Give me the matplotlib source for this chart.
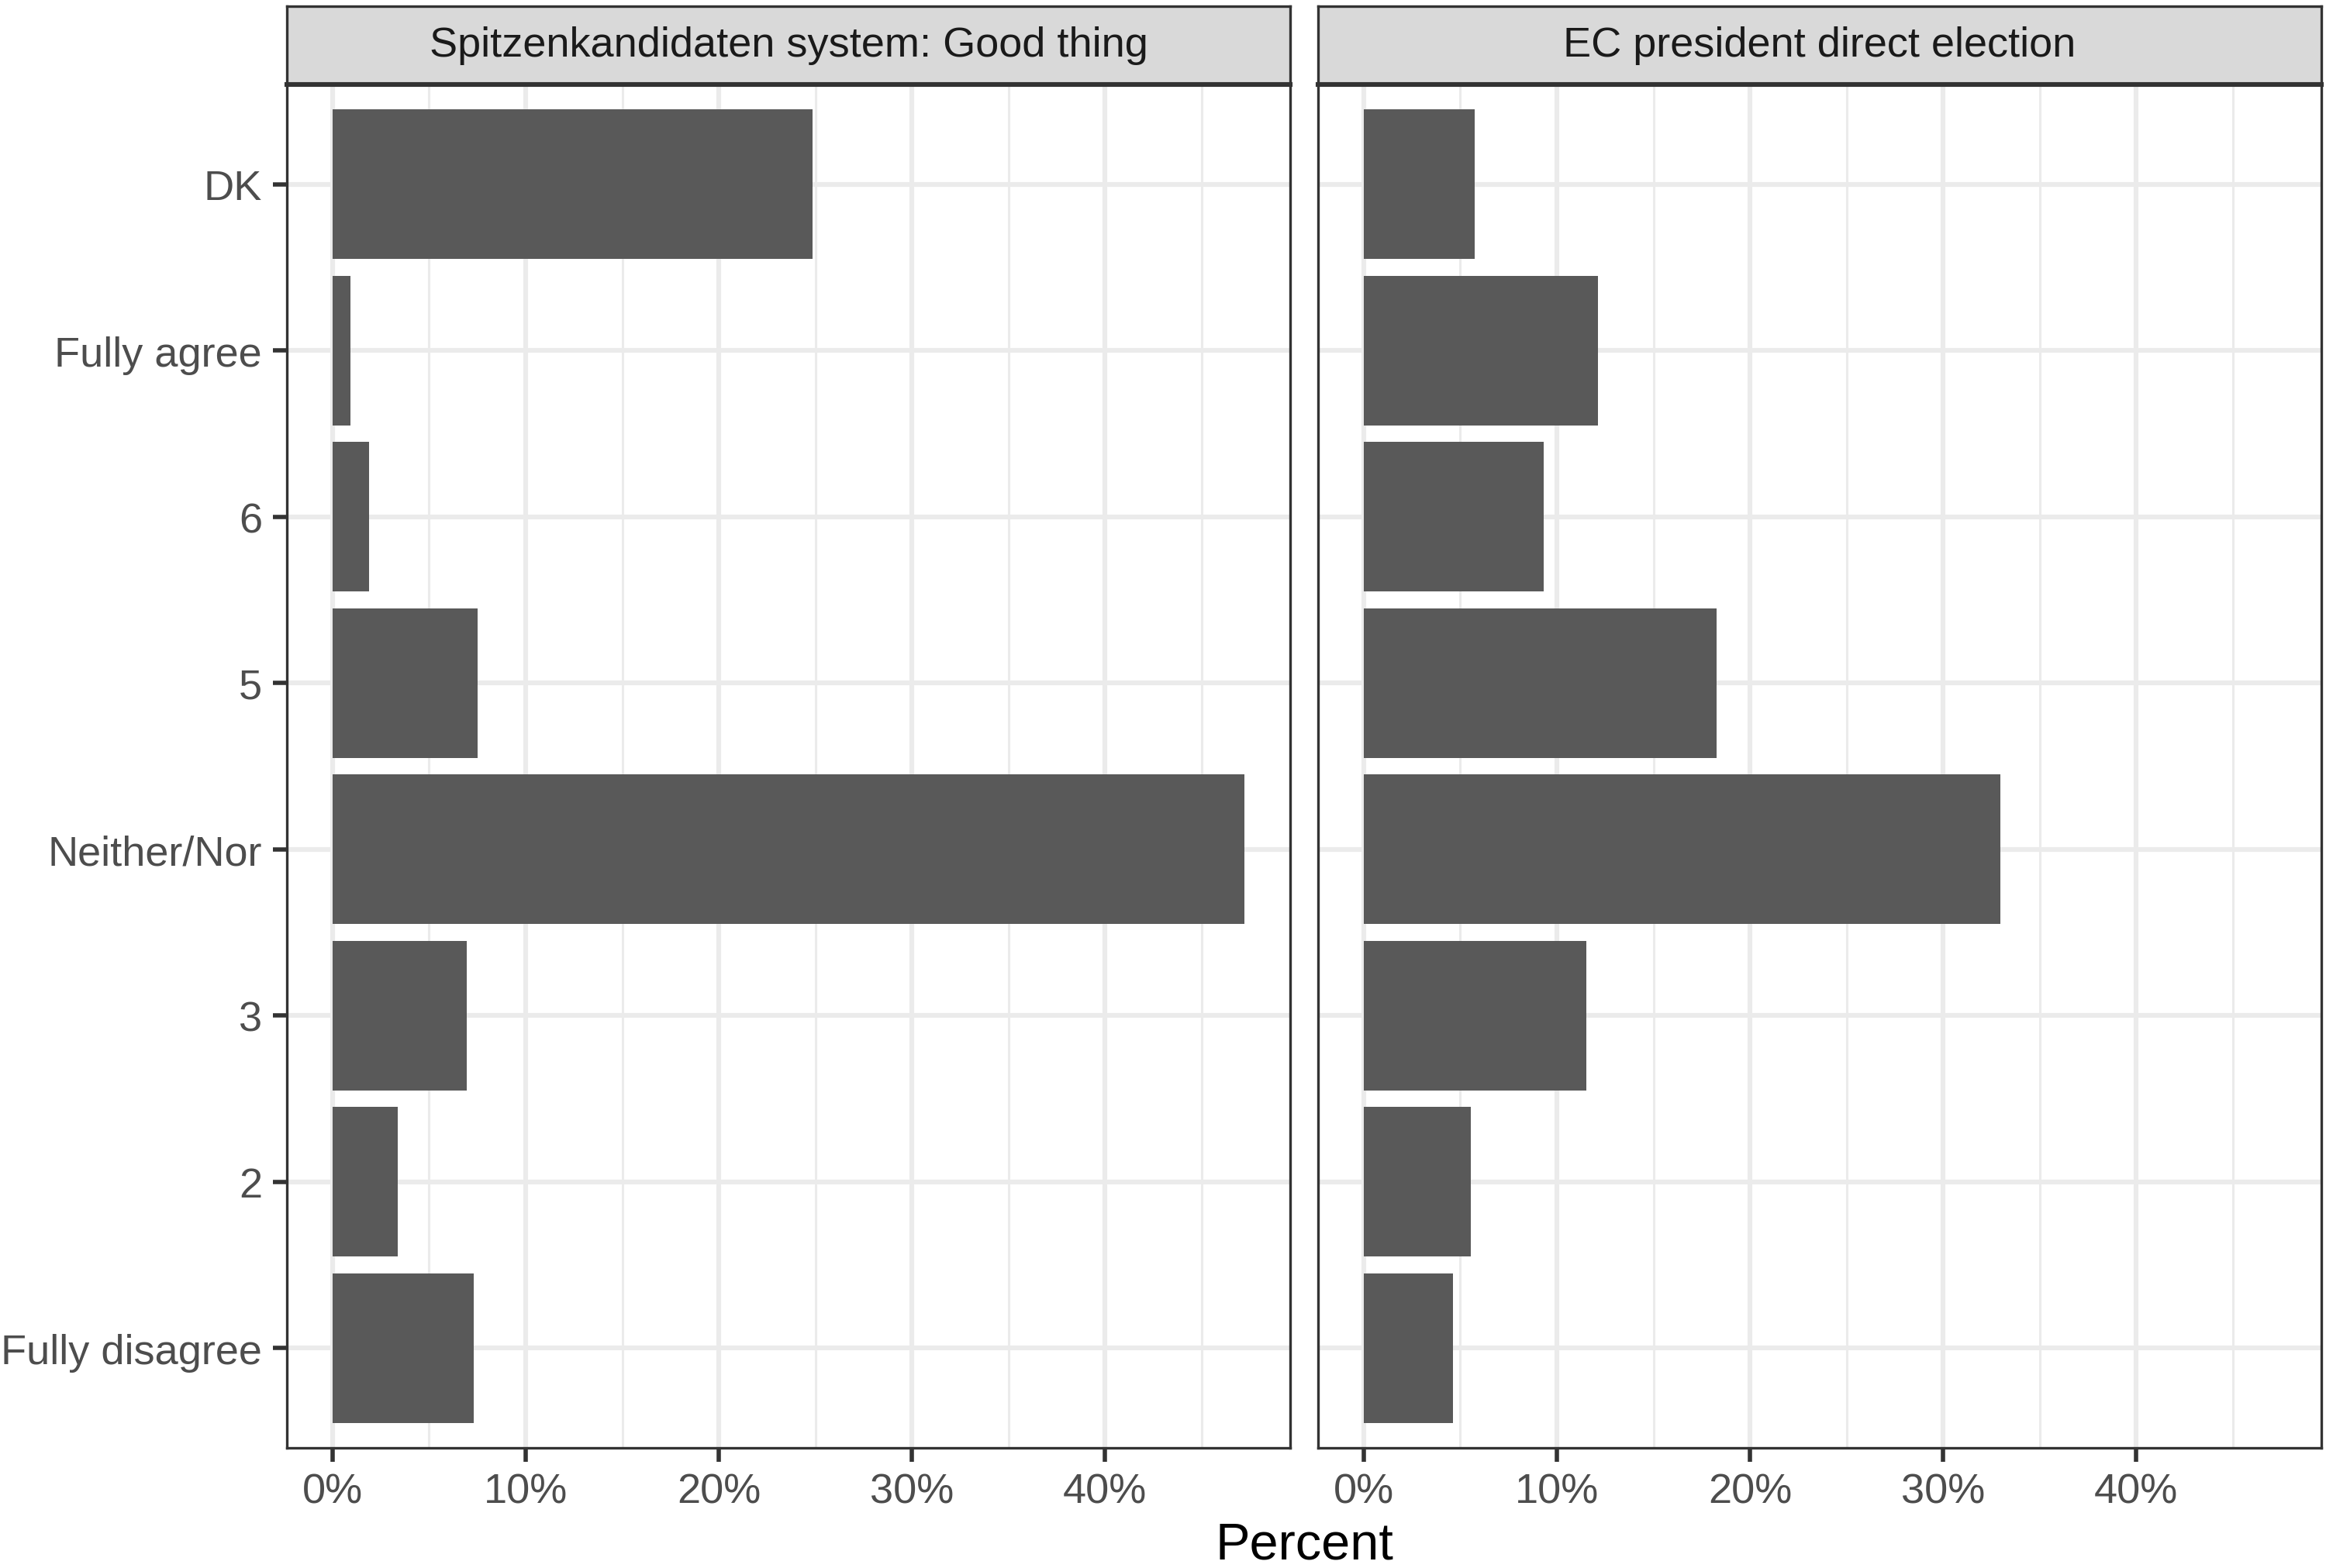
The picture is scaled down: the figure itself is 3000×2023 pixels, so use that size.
"""
Two-panel horizontal bar chart: Spitzenkandidaten vs. direct election of the EC president
"""

import numpy as np
import matplotlib.pyplot as plt
from matplotlib.ticker import FixedLocator, PercentFormatter

plt.rcParams['font.family'] = ['Liberation Sans', 'DejaVu Sans']

# answer categories, bottom to top
categories = ['Fully disagree', '2', '3', 'Neither/Nor', '5', '6', 'Fully agree', 'DK']

# share of respondents (%) per category
spitzen_values = [7.31, 3.37, 6.94, 47.22, 7.50, 1.89, 0.94, 24.87]
direct_values = [4.63, 5.55, 11.54, 32.98, 18.29, 9.30, 12.11, 5.74]

panel_titles = ['Spitzenkandidaten system: Good thing', 'EC president direct election']
x_ticks = [0, 10, 20, 30, 40]
x_minor = [5, 15, 25, 35, 45]

BAR = '#595959'
GRID = '#EBEBEB'
BORDER = '#333333'


def draw_panel(ax, values, show_y):
    y = np.arange(1, len(categories) + 1)
    vmax = max(max(spitzen_values), max(direct_values))
    pad = vmax * 0.05
    ax.set_xlim(-pad, vmax + pad)
    ax.set_ylim(0.4, len(categories) + 0.6)

    # grid like theme_bw
    for t in x_minor:
        ax.axvline(t, color=GRID, lw=1.1, zorder=0)
    for t in x_ticks:
        ax.axvline(t, color=GRID, lw=2.2, zorder=0)
    for t in y:
        ax.axhline(t, color=GRID, lw=2.2, zorder=0)

    ax.barh(y, values, height=0.9, color=BAR, zorder=2)

    ax.xaxis.set_major_locator(FixedLocator(x_ticks))
    ax.xaxis.set_major_formatter(PercentFormatter(decimals=0))
    ax.set_yticks(y)
    if show_y:
        ax.set_yticklabels(categories)
        ax.tick_params(axis='y', length=6.5, width=2, color=BORDER,
                       labelsize=19.5, labelcolor='#4D4D4D', pad=5)
    else:
        ax.tick_params(axis='y', left=False, labelleft=False)
    ax.tick_params(axis='x', length=6.5, width=2, color=BORDER,
                   labelsize=19.5, labelcolor='#4D4D4D', pad=5)

    for s in ax.spines.values():
        s.set_color(BORDER)
        s.set_linewidth(1.2)


fig = plt.figure(figsize=(15, 10.12), dpi=200)

W, H = 3000, 2024
panel_lefts = [370, 1700]
panel_w = 1294
panel_top, panel_bottom = 110, 1869
strip_top = 9

for left, title, vals, show_y in zip(panel_lefts, panel_titles,
                                      [spitzen_values, direct_values], [True, False]):
    ax = fig.add_axes([left / W, 1 - panel_bottom / H, panel_w / W, (panel_bottom - panel_top) / H])
    draw_panel(ax, vals, show_y)

    # facet strip
    sax = fig.add_axes([left / W, 1 - panel_top / H, panel_w / W, (panel_top - strip_top) / H])
    sax.set_facecolor('#D9D9D9')
    sax.set_xticks([])
    sax.set_yticks([])
    for s in sax.spines.values():
        s.set_color(BORDER)
        s.set_linewidth(1.2)
    sax.spines['bottom'].set_linewidth(2.2)
    sax.text(0.5, 0.5, title, ha='center', va='center', fontsize=19.5,
             color='#1A1A1A', transform=sax.transAxes)

fig.text((370 + 1700 + panel_w) / 2 / W, 1 - 1995 / H, 'Percent',
         ha='center', va='center', fontsize=24, color='black')

fig.savefig('out.png', dpi=200, facecolor='white')
